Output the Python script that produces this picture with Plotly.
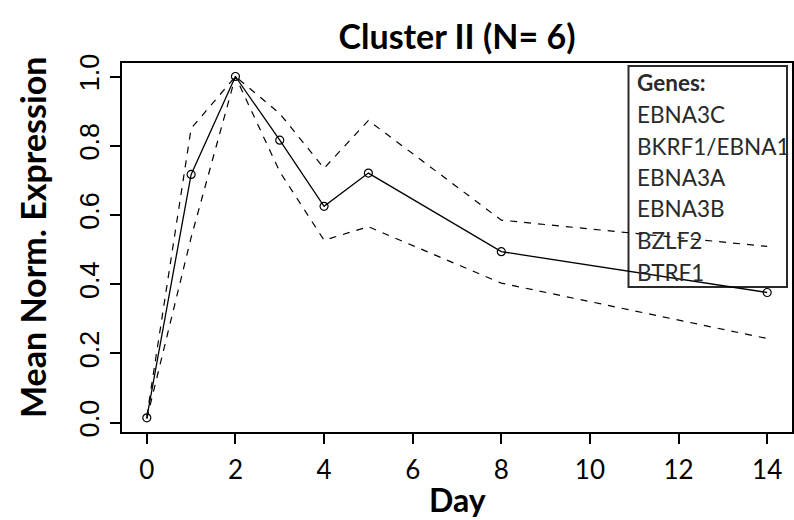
import plotly.graph_objects as go

# ---- data ----
days = [0, 1, 2, 3, 4, 5, 8, 14]
mean_expr = [0.014, 0.717, 1.0, 0.816, 0.625, 0.721, 0.494, 0.376]
upper_expr = [0.018, 0.850, 1.0, 0.893, 0.735, 0.873, 0.585, 0.509]
lower_expr = [0.011, 0.535, 1.0, 0.725, 0.527, 0.566, 0.403, 0.243]
genes = ["EBNA3C", "BKRF1/EBNA1", "EBNA3A", "EBNA3B", "BZLF2", "BTRF1"]
x_ticks = [0, 2, 4, 6, 8, 10, 12, 14]
y_ticks = [0.0, 0.2, 0.4, 0.6, 0.8, 1.0]
y_ticktext = ["0.0", "0.2", "0.4", "0.6", "0.8", "1.0"]
title_text = "Cluster II (N= 6)"
x_title = "Day"
y_title = "Mean Norm. Expression"

CAL = "Lato, 'Open Sans', sans-serif"
ARIAL = "'Liberation Sans', Arial, sans-serif"

W, H = 794, 520
ml, mr, mt, mb = 122, 2, 63, 88
pw = W - ml - mr
ph = H - mt - mb

def px_x(p):
    return (p - ml) / pw

def px_y(p):
    return 1 - (p - mt) / ph

fig = go.Figure()

# legend box (R-style legend, drawn beneath the lines, no fill)
fig.add_shape(type="rect", xref="paper", yref="paper",
              x0=px_x(628.5), x1=px_x(787), y0=px_y(287), y1=px_y(66),
              line=dict(color="#2a2a2a", width=2), fillcolor="rgba(0,0,0,0)", layer="below")
legend_lines = ["<b>Genes:</b>"] + genes
for i, t in enumerate(legend_lines):
    fig.add_annotation(xref="paper", yref="paper", x=px_x(635), y=px_y(83 + 31.5 * i),
                       xanchor="left", yanchor="middle", text=t, showarrow=False,
                       font=dict(family=CAL, size=22.5, color="#2a2a2a"))

for ys in (upper_expr, lower_expr):
    fig.add_trace(go.Scatter(x=days, y=ys, mode="lines",
                             line=dict(color="black", width=1.2, dash="7px,7px"),
                             showlegend=False, hoverinfo="skip"))
fig.add_trace(go.Scatter(x=days, y=mean_expr, mode="lines+markers",
                         line=dict(color="black", width=1.3),
                         marker=dict(symbol="circle-open", size=8, color="black",
                                     line=dict(width=1.2, color="black")),
                         showlegend=False))

# axis titles
fig.add_annotation(xref="paper", yref="paper", x=0.5, y=px_y(500),
                   xanchor="center", yanchor="middle", showarrow=False,
                   text="<b>" + x_title + "</b>",
                   font=dict(family=CAL, size=32, color="black"))
fig.add_annotation(xref="paper", yref="paper", x=px_x(32), y=px_y(238),
                   xanchor="center", yanchor="middle", showarrow=False, textangle=-90,
                   text="<b>" + y_title + "</b>",
                   font=dict(family=CAL, size=34, color="black"))

fig.update_layout(
    width=W, height=H,
    margin=dict(l=ml, r=mr, t=mt, b=mb, autoexpand=False),
    paper_bgcolor="white", plot_bgcolor="white",
    title=dict(text="<b>" + title_text + "</b>", x=457 / W,
               xanchor="center", y=1 - 37 / H, yanchor="middle", yref="container",
               font=dict(family=CAL, size=34, color="black")),
    showlegend=False,
    xaxis=dict(range=[-0.56, 14.56], tickmode="array", tickvals=x_ticks,
               ticks="outside", ticklen=10, tickwidth=1.5, tickcolor="black",
               showline=True, mirror=True, linecolor="black", linewidth=2,
               showgrid=False, zeroline=False, ticklabelstandoff=4,
               tickfont=dict(family=CAL, size=26, color="black")),
    yaxis=dict(range=[-0.027, 1.039], tickmode="array", tickvals=y_ticks,
               ticktext=y_ticktext, tickangle=-90,
               ticks="outside", ticklen=10, tickwidth=1.5, tickcolor="black",
               showline=True, mirror=True, linecolor="black", linewidth=2,
               showgrid=False, zeroline=False,
               tickfont=dict(family=ARIAL, size=27, color="black")),
)

fig.write_html("out.html", config={"displayModeBar": False})
